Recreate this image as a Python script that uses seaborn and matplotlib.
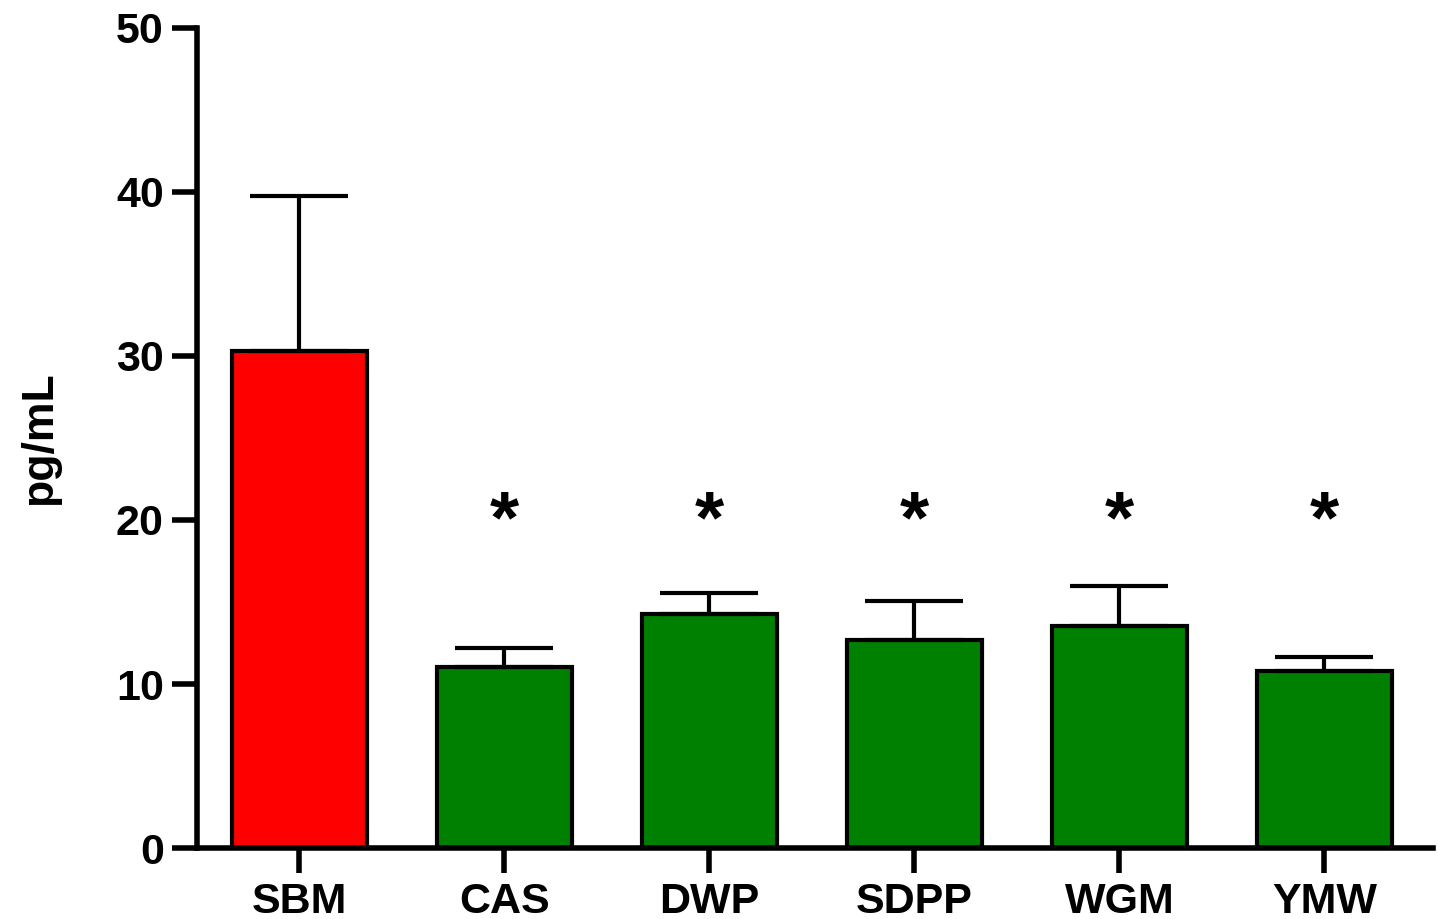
import numpy as np
import pandas as pd
import seaborn as sns
import matplotlib.pyplot as plt

# values
groups = ['SBM', 'CAS', 'DWP', 'SDPP', 'WGM', 'YMW']
means = [30.3, 11.05, 14.3, 12.7, 13.55, 10.8]
sem = [9.45, 1.15, 1.25, 2.35, 2.45, 0.85]
signif = ['', '*', '*', '*', '*', '*']
colors = ['#ff0000', '#008000', '#008000', '#008000', '#008000', '#008000']

df = pd.DataFrame({'group': groups, 'mean': means})

sns.set_style('ticks', {'axes.edgecolor': 'black', 'text.color': 'black',
                        'xtick.color': 'black', 'ytick.color': 'black',
                        'axes.labelcolor': 'black'})
plt.rcParams['font.family'] = ['Liberation Sans', 'DejaVu Sans']
plt.rcParams['font.weight'] = 'bold'

fig = plt.figure(figsize=(14.38, 9.19), dpi=100)
ax = fig.add_axes([0.137, 0.077, 0.8595, 0.893])

sns.barplot(data=df, x='group', y='mean', hue='group', palette=colors,
            saturation=1, width=0.66, edgecolor='black', linewidth=3,
            legend=False, ax=ax)

# upper error bars only
ax.errorbar(groups, means, yerr=[np.zeros(len(sem)), sem], fmt='none',
            ecolor='black', elinewidth=3, capsize=35, capthick=3, zorder=1)

for g, m, s, star in zip(groups, means, sem, signif):
    if star:
        ax.text(g, 19.8, star, ha='center', va='center', fontsize=54,
                fontweight='bold', color='black')

ax.set_ylim(0, 50)
ax.set_xlim(-0.5, 5.53)
ax.set_yticks([0, 10, 20, 30, 40, 50])
ax.set_xlabel('')
ax.set_ylabel('pg/mL', fontsize=32, fontweight='bold', labelpad=40)
sns.despine(ax=ax)
for side in ['left', 'bottom']:
    ax.spines[side].set_linewidth(4)
ax.tick_params(axis='both', length=18, width=4, labelsize=31, pad=6)
for lab in ax.get_xticklabels() + ax.get_yticklabels():
    lab.set_fontweight('bold')

fig.savefig('out.png', dpi=100)
